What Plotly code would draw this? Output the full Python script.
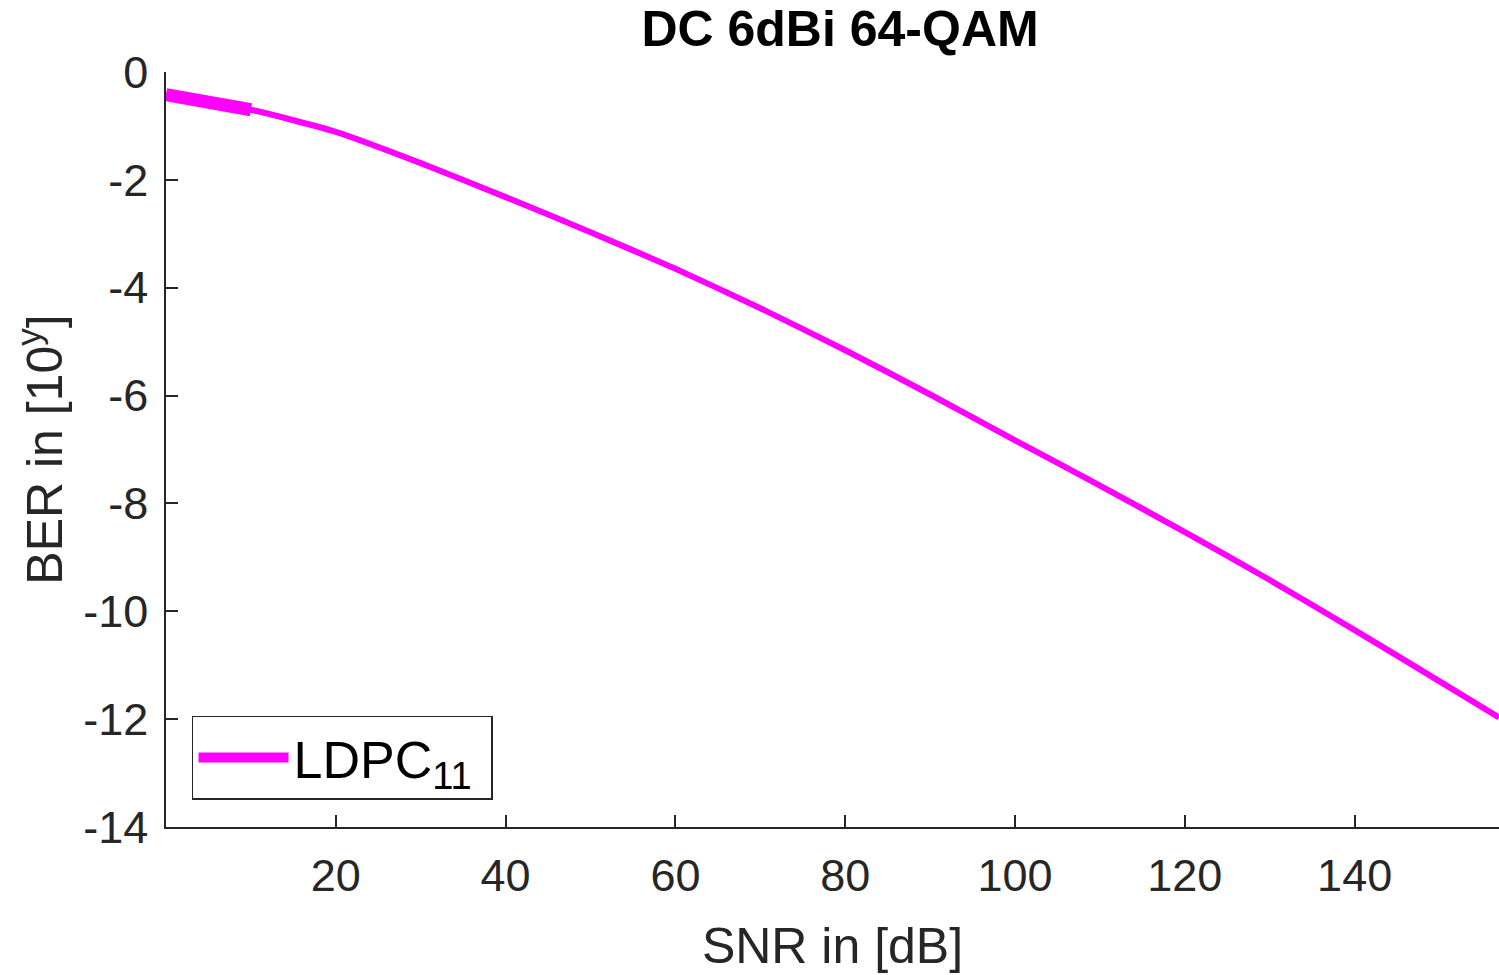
import plotly.graph_objects as go

snr = [0, 10, 20, 30, 40, 50, 60, 70, 80, 90, 100, 110, 120, 130, 140, 150, 157]
ber_log = [-0.42, -0.70, -1.11, -1.69, -2.32, -2.97, -3.65, -4.38, -5.16, -5.98,
           -6.83, -7.67, -8.53, -9.42, -10.35, -11.30, -11.97]

snr_low = [0, 2, 4, 6, 8, 10]
ber_low = [-0.42, -0.47, -0.52, -0.58, -0.64, -0.70]

y_ticks = [0, -2, -4, -6, -8, -10, -12, -14]
y_labels = ["0", "-2", "-4", "-6", "-8", "-10", "-12", "-14"]
x_ticks = [20, 40, 60, 80, 100, 120, 140]

magenta = "#ff00ff"
font = "Arial, Liberation Sans, Helvetica, sans-serif"
axcol = "#262626"

fig = go.Figure()
fig.add_trace(go.Scatter(x=snr, y=ber_log, mode="lines",
                         line=dict(color=magenta, width=6, shape="spline", smoothing=0.6),
                         showlegend=False))
fig.add_trace(go.Scatter(x=snr_low, y=ber_low, mode="lines",
                         line=dict(color=magenta, width=13),
                         name="LDPC<sub><span style='font-size:38px'>11</span></sub> "))

fig.update_layout(
    width=1499, height=975,
    paper_bgcolor="white", plot_bgcolor="white",
    margin=dict(l=166, r=0, t=72, b=148),
    font=dict(family=font, color=axcol),
    title=dict(text="<b>DC 6dBi 64-QAM</b>", xref="container", x=0.5604, xanchor="center",
               yref="container", y=0.971, yanchor="middle",
               font=dict(size=50, color="black", family=font)),
    legend=dict(x=0.0195, y=0.036, xanchor="left", yanchor="bottom",
                bgcolor="white", bordercolor=axcol, borderwidth=1.5,
                itemwidth=90,
                font=dict(size=52, color="black", family=font)),
)
fig.update_xaxes(range=[0, 157], tickvals=x_ticks,
                 ticks="inside", ticklen=12, tickcolor=axcol, tickwidth=1.5,
                 showline=True, linecolor=axcol, linewidth=1.5,
                 showgrid=False, zeroline=False,
                 ticklabelstandoff=8,
                 tickfont=dict(size=45, color=axcol),
                 title=dict(text="SNR in [dB]", font=dict(size=50, color=axcol), standoff=28))
fig.update_yaxes(range=[-14, 0], tickvals=y_ticks, ticktext=y_labels,
                 ticks="inside", ticklen=12, tickcolor=axcol, tickwidth=1.5,
                 showline=True, linecolor=axcol, linewidth=1.5,
                 showgrid=False, zeroline=False,
                 ticklabelstandoff=7,
                 tickfont=dict(size=45, color=axcol),
                 title=dict(text="BER in [10<sup>y</sup>]", font=dict(size=50, color=axcol), standoff=5))

fig.write_html("out.html", config={"displayModeBar": False},
               post_script="document.body.style.margin='0';document.body.style.overflow='hidden';")
